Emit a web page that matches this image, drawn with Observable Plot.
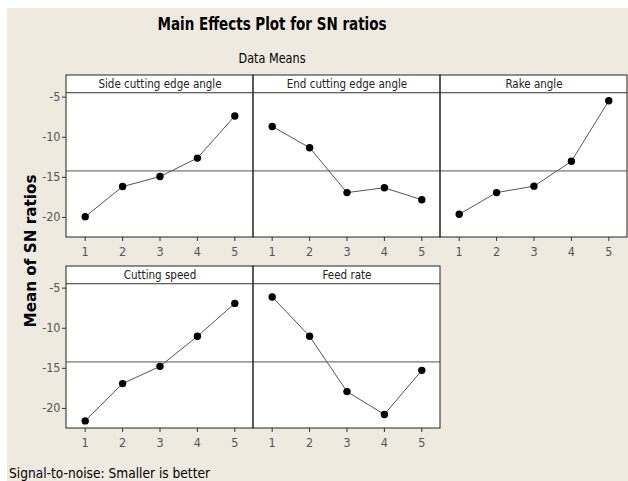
<!DOCTYPE html>
<html><head><meta charset="utf-8">
<script src="https://cdn.jsdelivr.net/npm/d3@7"></script>
<script src="https://cdn.jsdelivr.net/npm/@observablehq/plot@0.6"></script>
<style>
html,body{margin:0;padding:0;background:#fff;}
#wrap{position:relative;width:628px;height:481px;overflow:hidden;}
#bg{position:absolute;left:7px;top:8px;right:0;bottom:0;background:#EEEAE0;}
#chart{position:absolute;left:0;top:0;}
#chart svg{display:block;}
#labels{position:absolute;left:0;top:0;}
</style></head><body>
<div id="wrap"><div id="bg"></div><div id="chart"></div>
<svg id="labels" width="628" height="481" style="font-family:'DejaVu Sans Condensed','DejaVu Sans',sans-serif;">
  <text x="272" y="30" text-anchor="middle" font-weight="bold" font-size="17" textLength="229" lengthAdjust="spacingAndGlyphs">Main Effects Plot for SN ratios</text>
  <text x="272" y="63" text-anchor="middle" font-size="13.5" textLength="67" lengthAdjust="spacingAndGlyphs">Data Means</text>
  <text transform="translate(36,251) rotate(-90)" text-anchor="middle" font-weight="bold" font-size="15" textLength="153" lengthAdjust="spacingAndGlyphs">Mean of SN ratios</text>
  <text x="9" y="478" font-size="13.5" textLength="201" lengthAdjust="spacingAndGlyphs">Signal-to-noise: Smaller is better</text>
</svg>
</div>
<script>
// Data
const factors = ["Side cutting edge angle", "End cutting edge angle", "Rake angle", "Cutting speed", "Feed rate"];
const levels = [1, 2, 3, 4, 5];
const sideCuttingEdgeAngle = [-19.9, -16.15, -14.9, -12.6, -7.35];
const endCuttingEdgeAngle = [-8.65, -11.3, -16.9, -16.3, -17.8];
const rakeAngle = [-19.6, -16.9, -16.1, -13.0, -5.45];
const cuttingSpeed = [-21.55, -16.9, -14.75, -11.0, -6.9];
const feedRate = [-6.1, -11.0, -17.9, -20.75, -15.25];
const yTickValues = [-5, -10, -15, -20];
const xTickValues = [1, 2, 3, 4, 5];

const series = [sideCuttingEdgeAngle, endCuttingEdgeAngle, rakeAngle, cuttingSpeed, feedRate];
const panels = factors.map((f, i) => ({factor: f, col: i % 3, row: Math.floor(i / 3)}));
const points = panels.flatMap((p, i) => levels.map((l, j) => ({...p, level: l, value: series[i][j]})));
const grandMean = d3.mean(points, d => d.value);

const yMin = -22.5, yHead = -4.45, yTop = -2.3;
const bgRows = panels.map(p => ({...p, x1: 0.5, x2: 5.5, y1: yMin, y2: yTop}));
const meanRows = panels.map(p => ({...p, value: grandMean}));
const headRows = panels.map(p => ({...p, value: yHead, mid: (yHead + yTop) / 2, cx: 3}));

const font = "'DejaVu Sans Condensed','DejaVu Sans',sans-serif";

const chart = Plot.plot({
  width: 628, height: 481,
  marginLeft: 66, marginRight: 1, marginTop: 74, marginBottom: 53,
  style: {background: "transparent", fontFamily: font, fontSize: "12.5px"},
  fx: {domain: [0, 1, 2], paddingInner: 0, paddingOuter: 0, axis: null},
  fy: {domain: [0, 1], paddingInner: 0.153, paddingOuter: 0, axis: null},
  x: {domain: [0.5, 5.5]},
  y: {domain: [yMin, yTop]},
  marks: [
    Plot.rect(bgRows, {fx: "col", fy: "row", x1: "x1", x2: "x2", y1: "y1", y2: "y2", fill: "white"}),
    Plot.ruleY(meanRows, {fx: "col", fy: "row", y: "value", stroke: "#555", strokeWidth: 1}),
    Plot.ruleY(headRows, {fx: "col", fy: "row", y: "value", stroke: "#333", strokeWidth: 1}),
    Plot.text(headRows, {fx: "col", fy: "row", x: "cx", y: "mid", text: "factor", fill: "#222", fontSize: 11.5}),
    Plot.line(points, {fx: "col", fy: "row", x: "level", y: "value", z: "factor", stroke: "#555", strokeWidth: 1}),
    Plot.dot(points, {fx: "col", fy: "row", x: "level", y: "value", r: 3.7, fill: "black", stroke: "none"}),
    Plot.rect(bgRows, {fx: "col", fy: "row", x1: "x1", x2: "x2", y1: "y1", y2: "y2", fill: "none", stroke: "#222"}),
    Plot.axisY(yTickValues, {tickSize: 4, tickPadding: 2, tickFormat: d => String(d), stroke: "#333", fill: "#555", fontSize: 12.5, label: null}),
    Plot.axisX(xTickValues, {facetAnchor: null, tickSize: 4, tickPadding: 6, tickFormat: d => String(d), stroke: "#333", fill: "#555", fontSize: 12.5, label: null})
  ]
});
document.getElementById("chart").appendChild(chart);
</script>
</body></html>
